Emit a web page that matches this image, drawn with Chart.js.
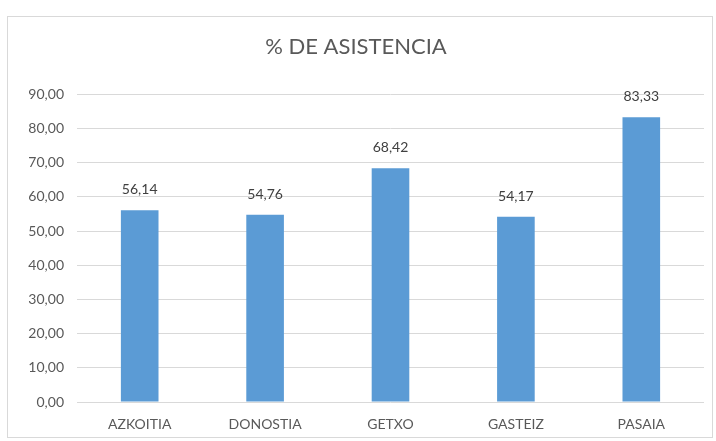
<!DOCTYPE html>
<html>
<head>
<meta charset="utf-8">
<script src="https://cdn.jsdelivr.net/npm/chart.js@4"></script>
<style>
  body { margin: 0; background: #fff; }
  #wrap { position: relative; width: 716px; height: 441px; }
  #frame { position: absolute; left: 7px; top: 16px; width: 706px; height: 422px; border: 1px solid #d9d9d9; box-sizing: border-box; pointer-events: none; }
</style>
</head>
<body>
<div id="wrap">
  <canvas id="myChart" width="716" height="441"></canvas>
  <div id="frame"></div>
</div>
<script>
const categories = ["AZKOITIA", "DONOSTIA", "GETXO", "GASTEIZ", "PASAIA"];
const asistencia = [56.14, 54.76, 68.42, 54.17, 83.33];
const yTicks = [0, 10, 20, 30, 40, 50, 60, 70, 80, 90];

const fmt = (v) => v.toFixed(2).replace(".", ",");
const fontFamily = "Lato, 'Open Sans', sans-serif";

// labels over each bar
const valueLabels = {
  id: "valueLabels",
  afterDatasetsDraw(chart) {
    const ctx = chart.ctx;
    const meta = chart.getDatasetMeta(0);
    ctx.save();
    ctx.font = "14px " + fontFamily;
    ctx.fillStyle = "#404040";
    ctx.textAlign = "center";
    ctx.textBaseline = "alphabetic";
    meta.data.forEach((bar, i) => {
      ctx.fillText(fmt(asistencia[i]), bar.x, bar.y - 16);
    });
    ctx.restore();
  },
};

const ctx = document.getElementById("myChart");
new Chart(ctx, {
  type: "bar",
  data: {
    labels: categories,
    datasets: [
      {
        data: asistencia,
        backgroundColor: "#5b9bd5",
        categoryPercentage: 1,
        barPercentage: 0.3,
      },
    ],
  },
  options: {
    responsive: false,
    animation: false,
    layout: { padding: { left: 8, right: 12, top: 0, bottom: 0 } },
    plugins: {
      legend: { display: false },
      tooltip: { enabled: false },
      title: {
        display: true,
        text: "% DE ASISTENCIA",
        color: "#595959",
        font: { family: fontFamily, size: 22, weight: "normal" },
        padding: { top: 34, bottom: 34 },
      },
    },
    scales: {
      x: {
        grid: { display: false, drawTicks: false },
        border: { display: false },
        afterFit: (scale) => {
          scale.height = 39;
        },
        ticks: {
          color: "#595959",
          font: { family: fontFamily, size: 14 },
          padding: 14,
        },
      },
      y: {
        min: 0,
        max: 90,
        afterBuildTicks: (scale) => {
          scale.ticks = yTicks.map((v) => ({ value: v }));
        },
        afterFit: (scale) => {
          scale.width = 69;
        },
        grid: { color: "#d9d9d9", drawTicks: false },
        border: { display: false },
        ticks: {
          color: "#595959",
          font: { family: fontFamily, size: 14 },
          padding: 13,
          callback: (v) => fmt(v),
        },
      },
    },
  },
  plugins: [valueLabels],
});
</script>
</body>
</html>
